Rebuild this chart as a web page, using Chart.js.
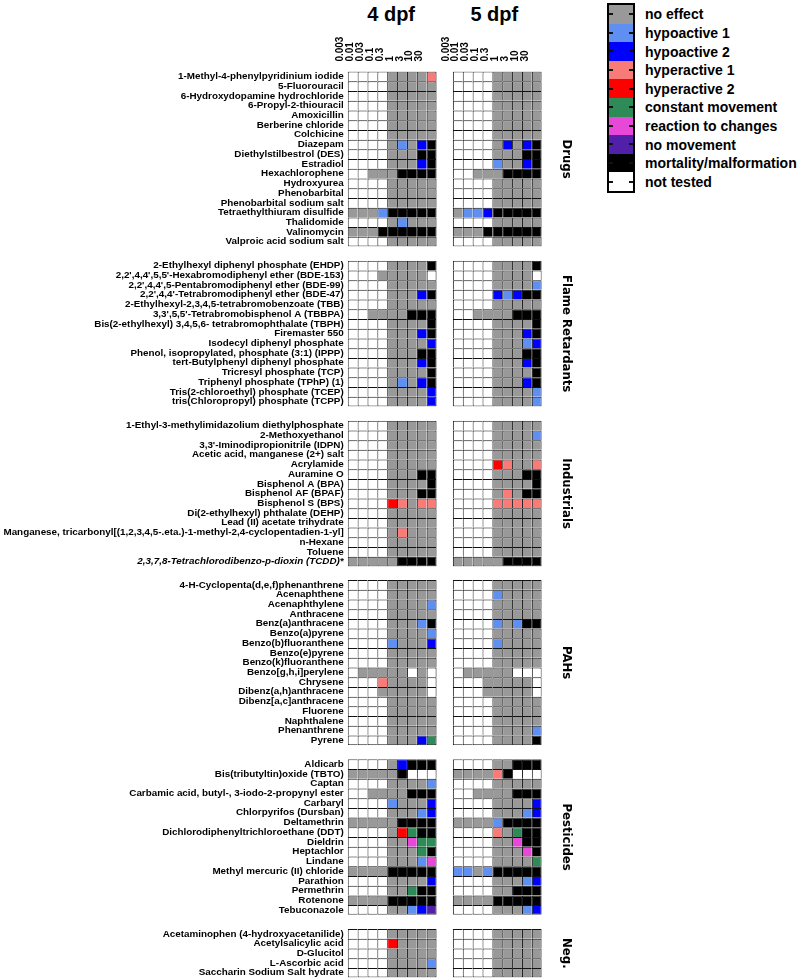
<!DOCTYPE html>
<html><head><meta charset="utf-8">
<script src="https://cdn.jsdelivr.net/npm/chart.js@4.4.0/dist/chart.umd.min.js"></script>
<style>
html,body{margin:0;padding:0;background:#fff;}
body{width:800px;height:980px;position:relative;overflow:hidden;font-family:"Liberation Sans",Arial,sans-serif;}
.chartbox{position:absolute;left:0;}
.hdr{position:absolute;top:2px;font:bold 20px "Liberation Sans",Arial,sans-serif;line-height:24px;transform:translateX(-50%);white-space:nowrap;color:#000;}
#legend{position:absolute;left:607px;top:3px;width:24px;height:186px;border:2px solid #000;}
.seg{position:relative;width:24px;}
.tk{position:absolute;width:4px;height:2px;background:#111;}
.ltxt{position:absolute;left:645px;font:bold 14px "Liberation Sans",Arial,sans-serif;line-height:16px;white-space:nowrap;color:#000;}
</style></head><body>
<div class="hdr" id="h0"></div>
<div class="hdr" id="h1"></div>
<div id="legend"></div>
<script>
// ---------- data ----------
const concentrations = ['0.003','0.01','0.03','0.1','0.3','1','3','10','30'];
const stageTitles = ['4 dpf','5 dpf'];
const statusCodes  = ['G','L','B','P','R','C','M','V','K','W'];
const statusLabels = ['no effect','hypoactive 1','hypoactive 2','hyperactive 1','hyperactive 2','constant movement','reaction to changes','no movement','mortality/malformation','not tested'];
const statusColors = ['#999999','#5f8ff0','#0000ff','#f87b78','#ff0000','#2e8b57','#e848d8','#5020a8','#000000','#ffffff'];
const groupTitles = ['Drugs','Flame Retardants','Industrials','PAHs','Pesticides','Neg.'];
const italicNames = ['2,3,7,8-Tetrachlorodibenzo-p-dioxin (TCDD)*'];

const drugsNames = ['1-Methyl-4-phenylpyridinium iodide','5-Fluorouracil','6-Hydroxydopamine hydrochloride','6-Propyl-2-thiouracil','Amoxicillin','Berberine chloride','Colchicine','Diazepam','Diethylstilbestrol (DES)','Estradiol','Hexachlorophene','Hydroxyurea','Phenobarbital','Phenobarbital sodium salt','Tetraethylthiuram disulfide','Thalidomide','Valinomycin','Valproic acid sodium salt'];
const drugs4dpf = ['WWWWGGGGP','WWWWGGGGG','WWWWGGGGG','WWWWGGGGG','WWWWGGGGG','WWWWGGGGG','WWWWGGGGG','WWWWGLGBK','WWWWGGGKK','WWWWGGGBK','WWGGGKKKK','WWWWGGGGG','WWWWGGGGG','WWWWGGGGG','GGGLKKKKK','WWWWGLGGG','GGGKKKKKK','WWWWGGGGG'];
const drugs5dpf = ['WWWWGGGGG','WWWWGGGGG','WWWWGGGGG','WWWWGGGGG','WWWWGGGGG','WWWWGGGGG','WWWWGGGGG','WWWWGBGBK','WWWWGGGKK','WWWWLGGBK','WWGGGKKKK','WWWWGGGGG','WWWWGGGGG','WWWWGGGGG','GLLBKKKKK','WWWWGGGGG','GGGKKKKKK','WWWWGGGGG'];

const flameNames = ['2-Ethylhexyl diphenyl phosphate (EHDP)',"2,2',4,4',5,5'-Hexabromodiphenyl ether (BDE-153)","2,2',4,4',5-Pentabromodiphenyl ether (BDE-99)","2,2',4,4'-Tetrabromodiphenyl ether (BDE-47)",'2-Ethylhexyl-2,3,4,5-tetrabromobenzoate (TBB)',"3,3',5,5'-Tetrabromobisphenol A (TBBPA)",'Bis(2-ethylhexyl) 3,4,5,6- tetrabromophthalate (TBPH)','Firemaster 550','Isodecyl diphenyl phosphate','Phenol, isopropylated, phosphate (3:1) (IPPP)','tert-Butylphenyl diphenyl phosphate','Tricresyl phosphate (TCP)','Triphenyl phosphate (TPhP) (1)','Tris(2-chloroethyl) phosphate (TCEP)','tris(Chloropropyl) phosphate (TCPP)'];
const flame4dpf = ['WWWWGGGGK','WWWGGGGGW','WWWWGGGGG','WWWWGGGBK','WWWWGGGGG','WWGGGGKKK','WWWWGGGGK','WWWWGGGBK','WWWWGGGGB','WWWWGGGKK','WWWWGGGBK','WWWWGGGGK','WWWWGLGBK','WWWWGGGGB','WWWWGGGGB'];
const flame5dpf = ['WWWWGGGGK','WWWWGGGGW','WWWWGGGGL','WWWWBLBKK','WWWWGGGGG','WWGGGGKKK','WWWWGGGGK','WWWWGGGBK','WWWWGGGLB','WWWWGGGKK','WWWWGGGBK','WWWWGGGGK','WWWWGGGBK','WWWWGGGGL','WWWWGGGGL'];

const industrialNames = ['1-Ethyl-3-methylimidazolium diethylphosphate','2-Methoxyethanol',"3,3'-Iminodipropionitrile (IDPN)",'Acetic acid, manganese (2+) salt','Acrylamide','Auramine O','Bisphenol A (BPA)','Bisphenol AF (BPAF)','Bisphenol S (BPS)','Di(2-ethylhexyl) phthalate (DEHP)','Lead (II) acetate trihydrate','Manganese, tricarbonyl[(1,2,3,4,5-.eta.)-1-methyl-2,4-cyclopentadien-1-yl]','n-Hexane','Toluene','2,3,7,8-Tetrachlorodibenzo-p-dioxin (TCDD)*'];
const industrial4dpf = ['WWWWGGGGG','WWWWGGGGG','WWWWGGGGG','WWWWGGGGG','WWWWGGGGG','WWWWGGGKK','WWWWGGGGK','WWWWGGGKK','WWWWRPGPP','WWWWGGGGG','WWWWGGGGG','WWWWGPGGG','WWWWGGGGG','WWWWGGGGG','GGGGGKKKK'];
const industrial5dpf = ['WWWWGGGGG','WWWWGGGGL','WWWWGGGGG','WWWWGGGGG','WWWWRPGGP','WWWWGGGKK','WWWWGGGGK','WWWWGPGKK','WWWWPPPPP','WWWWGGGGG','WWWWGGGGG','WWWWGGGGG','WWWWGGGGG','WWWWGGGGG','GGGGGKKKK'];

const pahNames = ['4-H-Cyclopenta(d,e,f)phenanthrene','Acenaphthene','Acenaphthylene','Anthracene','Benz(a)anthracene','Benzo(a)pyrene','Benzo(b)fluoranthene','Benzo(e)pyrene','Benzo(k)fluoranthene','Benzo[g,h,i]perylene','Chrysene','Dibenz(a,h)anthracene','Dibenz[a,c]anthracene','Fluorene','Naphthalene','Phenanthrene','Pyrene'];
const pah4dpf = ['WWWWGGGGG','WWWWGGGGG','WWWWGGGGL','WWWWGGGGG','WWWWGGGLK','WWWWGGGGL','WWWWLGGGB','WWWWGGGGG','WWWWGGGGG','WGGGGGWGW','WWWPGGGGW','WWWGGGGGW','WWWWGGGGG','WWWWGGGGG','WWWWGGGGG','WWWWGGGGG','WWWWGGGBC'];
const pah5dpf = ['WWWWGGGGG','WWWWLGGGG','WWWWGGGGG','WWWWGGGGG','WWWWLGLKK','WWWWGGGGG','WWWWLGGGG','WWWWGGGGG','WWWWGGGGG','WGGGGGWWW','WWWGGGGGW','WWWGGGGGW','WWWWGGGGG','WWWWGGGGG','WWWWGGGGG','WWWWGGGGL','WWWWGGGGK'];

const pesticideNames = ['Aldicarb','Bis(tributyltin)oxide (TBTO)','Captan','Carbamic acid, butyl-, 3-iodo-2-propynyl ester','Carbaryl','Chlorpyrifos (Dursban)','Deltamethrin','Dichlorodiphenyltrichloroethane (DDT)','Dieldrin','Heptachlor','Lindane','Methyl mercuric (II) chloride','Parathion','Permethrin','Rotenone','Tebuconazole'];
const pesticide4dpf = ['WWWWGBKKK','GGGGGKWWW','WWWWGGGGL','WWGGGGKKK','WWWWLGGGB','WWWWGGGLB','GGGGGKKKK','WWWWGRCKK','WWWWGGMCC','WWWWGGGCK','WWWWGGGLM','GGGGKKKKK','WWWWGGGGB','WWWWGGCKK','GGGGKKKKK','WWWWGGLBV'];
const pesticide5dpf = ['WWWWGGKKK','GGGGPKWWW','WWWWGGGGG','WWGGGGKKK','WWWWGGGGB','WWWWGGGLB','GGGGLKKKK','WWWWPGCKK','WWWWGGMKK','WWWWGGGMK','WWWWGGGGC','LLGLKKKKK','WWWWGGGLB','WWWWGGKKK','GGGGKKKKK','WWWWGGGLB'];

const negNames = ['Acetaminophen (4-hydroxyacetanilide)','Acetylsalicylic acid','D-Glucitol','L-Ascorbic acid','Saccharin Sodium Salt hydrate'];
const neg4dpf = ['WWWWGGGGG','WWWWRGGGG','WWWWGGGGG','WWWWGGGGL','WWWWGGGGG'];
const neg5dpf = ['WWWWGGGGG','WWWWGGGGG','WWWWGGGGG','WWWWGGGGG','WWWWGGGGG'];

// ---------- layout ----------
const FONT = '"Liberation Sans", Arial, sans-serif';
const NARROW = '"Liberation Sans Narrow", "DejaVu Sans Condensed", "Liberation Sans", sans-serif';
const CHART_LEFT = 347.7, CHART_RIGHT = 541.7, CANVAS_W = 575;
const ROW_H = 9.72;
const GROUP_TOPS = [71.6, 260.7, 420.7, 580, 759.3, 929];
const PANEL_GAP = 1.65;
const X_MAX = 9 + PANEL_GAP + 9;

const groups = [
  {title: groupTitles[0], names: drugsNames, d4: drugs4dpf, d5: drugs5dpf},
  {title: groupTitles[1], names: flameNames, d4: flame4dpf, d5: flame5dpf},
  {title: groupTitles[2], names: industrialNames, d4: industrial4dpf, d5: industrial5dpf},
  {title: groupTitles[3], names: pahNames, d4: pah4dpf, d5: pah5dpf},
  {title: groupTitles[4], names: pesticideNames, d4: pesticide4dpf, d5: pesticide5dpf},
  {title: groupTitles[5], names: negNames, d4: neg4dpf, d5: neg5dpf}
];

// headers
document.getElementById('h0').textContent = stageTitles[0];
document.getElementById('h1').textContent = stageTitles[1];
const pxPerUnit = (CHART_RIGHT - CHART_LEFT) / X_MAX;
document.getElementById('h0').style.left = (CHART_LEFT + 4.5 * pxPerUnit - 1) + 'px';
document.getElementById('h1').style.left = (CHART_LEFT + (9 + PANEL_GAP + 4.5) * pxPerUnit - 3) + 'px';

// legend
const leg = document.getElementById('legend');
const SEG_H = 186 / statusLabels.length;
statusLabels.forEach((lab, i) => {
  const s = document.createElement('div');
  s.className = 'seg';
  s.style.height = SEG_H + 'px';
  s.style.background = statusColors[i];
  const t1 = document.createElement('div'); t1.className = 'tk'; t1.style.left = '0px'; t1.style.top = (SEG_H/2 - 1) + 'px';
  const t2 = document.createElement('div'); t2.className = 'tk'; t2.style.right = '0px'; t2.style.top = (SEG_H/2 - 1) + 'px';
  s.appendChild(t1); s.appendChild(t2);
  leg.appendChild(s);
  const tx = document.createElement('div');
  tx.className = 'ltxt';
  tx.textContent = lab;
  tx.style.top = (3 + 2 + SEG_H * (i + 0.5) - 8) + 'px';
  document.body.appendChild(tx);
});

// charts
groups.forEach((g, gi) => {
  const n = g.names.length;
  const first = gi === 0;
  const headerH = first ? 40 : 0;
  const canvasTop = Math.floor(GROUP_TOPS[gi]) - (first ? 50 : 10);
  const padTop = GROUP_TOPS[gi] - canvasTop - headerH;
  const gridH = n * ROW_H;
  const canvasH = Math.ceil(padTop + headerH + gridH + 10);
  const padBottom = canvasH - padTop - headerH - gridH;
  const div = document.createElement('div');
  div.className = 'chartbox';
  div.style.top = canvasTop + 'px';
  div.style.width = CANVAS_W + 'px';
  div.style.height = canvasH + 'px';
  const cv = document.createElement('canvas');
  div.appendChild(cv);
  document.body.appendChild(div);

  const datasets = [];
  [g.d4, g.d5].forEach((rows, p) => {
    const off = p * (9 + PANEL_GAP);
    for (let c = 0; c < concentrations.length; c++) {
      datasets.push({
        label: stageTitles[p] + ' ' + concentrations[c],
        data: rows.map(() => [off + c, off + c + 1]),
        backgroundColor: rows.map(r => statusColors[statusCodes.indexOf(r[c])]),
        borderColor: '#111',
        borderWidth: (ctx) => ({left: 1, top: 1, right: c === 8 ? 1 : 0, bottom: ctx.dataIndex === n - 1 ? 1 : 0}),
        borderSkipped: false,
        grouped: false,
        barPercentage: 1,
        categoryPercentage: 1,
        inflateAmount: 0
      });
    }
  });

  new Chart(cv, {
    type: 'bar',
    data: {labels: g.names, datasets},
    options: {
      indexAxis: 'y',
      responsive: true,
      maintainAspectRatio: false,
      animation: false,
      events: [],
      layout: {padding: {left: 0, right: 0, top: padTop, bottom: padBottom}},
      plugins: {legend: {display: false}, tooltip: {enabled: false}},
      scales: {
        x: {
          type: 'linear', min: 0, max: X_MAX, position: 'top', display: first,
          grid: {display: false, drawTicks: false, tickLength: 0},
          border: {display: false},
          afterBuildTicks: (s) => {
            const t = [];
            for (let p = 0; p < 2; p++) for (let c = 0; c < 9; c++) t.push({value: p * (9 + PANEL_GAP) + c + 0.5});
            s.ticks = t;
          },
          afterFit: (s) => { s.height = headerH; },
          ticks: {
            autoSkip: false, minRotation: 90, maxRotation: 90, padding: 10, color: '#000',
            font: {family: FONT, size: 10, weight: 'bold'},
            callback: (v, i) => concentrations[i % 9]
          }
        },
        y: {
          type: 'category', position: 'left', offset: true,
          grid: {display: false, drawTicks: false, tickLength: 0},
          border: {display: false},
          afterFit: (s) => { s.width = CHART_LEFT; },
          ticks: {
            autoSkip: false, padding: 4, color: '#000',
            font: (ctx) => ({family: FONT, size: 9.85, weight: 'bold', style: italicNames.includes(g.names[ctx.index]) ? 'italic' : 'normal'})
          }
        },
        y2: {
          type: 'category', position: 'right', labels: g.names, offset: true,
          grid: {display: false, drawTicks: false, tickLength: 0},
          border: {display: false},
          ticks: {display: false},
          title: {display: true, text: g.title, color: '#000', font: {family: NARROW, size: 13, weight: 'bold', lineHeight: 1.2}, padding: {top: 1, bottom: 0}},
          afterFit: (s) => { s.width = CANVAS_W - CHART_RIGHT; }
        }
      }
    }
  });
});
</script>
</body></html>
